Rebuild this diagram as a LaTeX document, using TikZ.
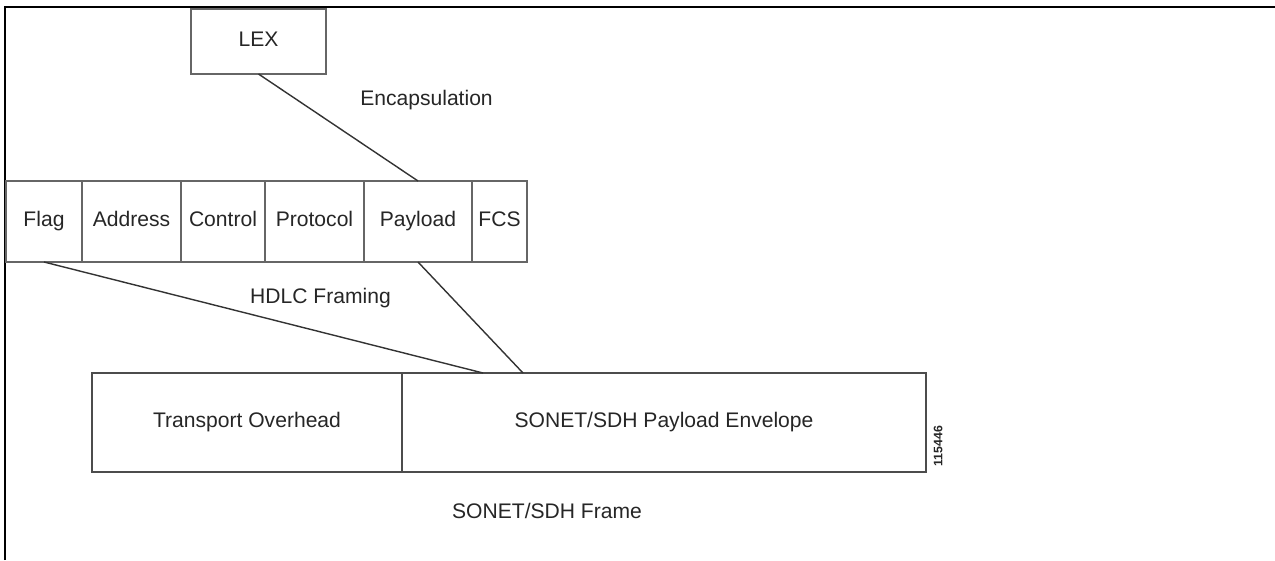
\documentclass[tikz,border=0pt]{standalone}
\usepackage{fontspec}
\setmainfont{Liberation Sans}
\usetikzlibrary{positioning}
\tikzset{%
  link/.style={draw=black!80, line width=0.8pt},
  field/.style={rectangle, draw=black!60, line width=0.8pt, minimum height=1.62cm, outer sep=0pt, inner sep=0pt, align=center, text height=0.72em, text depth=0.2em},
  part/.style={rectangle, draw=black!70, line width=0.8pt, minimum height=1.98cm, outer sep=0pt, inner sep=0pt, align=center, text height=0.72em, text depth=0.2em},
  fig number/.style={rotate=90, font=\fontsize{7}{8}\selectfont\bfseries}
}

\begin{document}
\begin{tikzpicture}[font=\fontsize{12}{14}\selectfont, text=black!85]

 \useasboundingbox (0,0) rectangle (25.5,11.2);
 \draw[line width=1.1pt] (0.1,0) -- (0.1,11.06) -- (25.5,11.06);

 \node[field, minimum width=2.7cm, minimum height=1.3cm] (lex) at (5.17,10.37) {LEX};

 % HDLC frame fields
 \node[field, minimum width=1.52cm, anchor=west] (flag) at (0.12,6.77) {Flag};
 \node[field, minimum width=1.98cm, right=0pt of flag] (address) {Address};
 \node[field, minimum width=1.68cm, right=0pt of address] (control) {Control};
 \node[field, minimum width=1.98cm, right=0pt of control] (protocol) {Protocol};
 \node[field, minimum width=2.16cm, right=0pt of protocol] (payload) {Payload};
 \node[field, minimum width=1.1cm, right=0pt of payload] (fcs) {FCS};

 % SONET/SDH frame
 \node[part, minimum width=6.2cm, anchor=west] (overhead) at (1.84,2.75) {Transport Overhead};
 \node[part, minimum width=10.48cm, right=0pt of overhead] (envelope) {SONET/SDH Payload Envelope};

 \coordinate (flagend) at ([xshift=1.62cm]envelope.north west);
 \coordinate (payloadend) at ([xshift=2.42cm]envelope.north west);

 \draw[link] (lex.south) -- (payload.north);
 \draw[link] (flag.south) -- (flagend);
 \draw[link] (payload.south) -- (payloadend);

 \node (encap) at (8.53,9.2) {Encapsulation};
 \node (hdlc) at (6.41,5.24) {HDLC Framing};
 \node (sonet) at (10.94,0.98) {SONET/SDH Frame};
 \node[fig number] (fignum) at (18.76,2.28) {115446};

\end{tikzpicture}
\end{document}
